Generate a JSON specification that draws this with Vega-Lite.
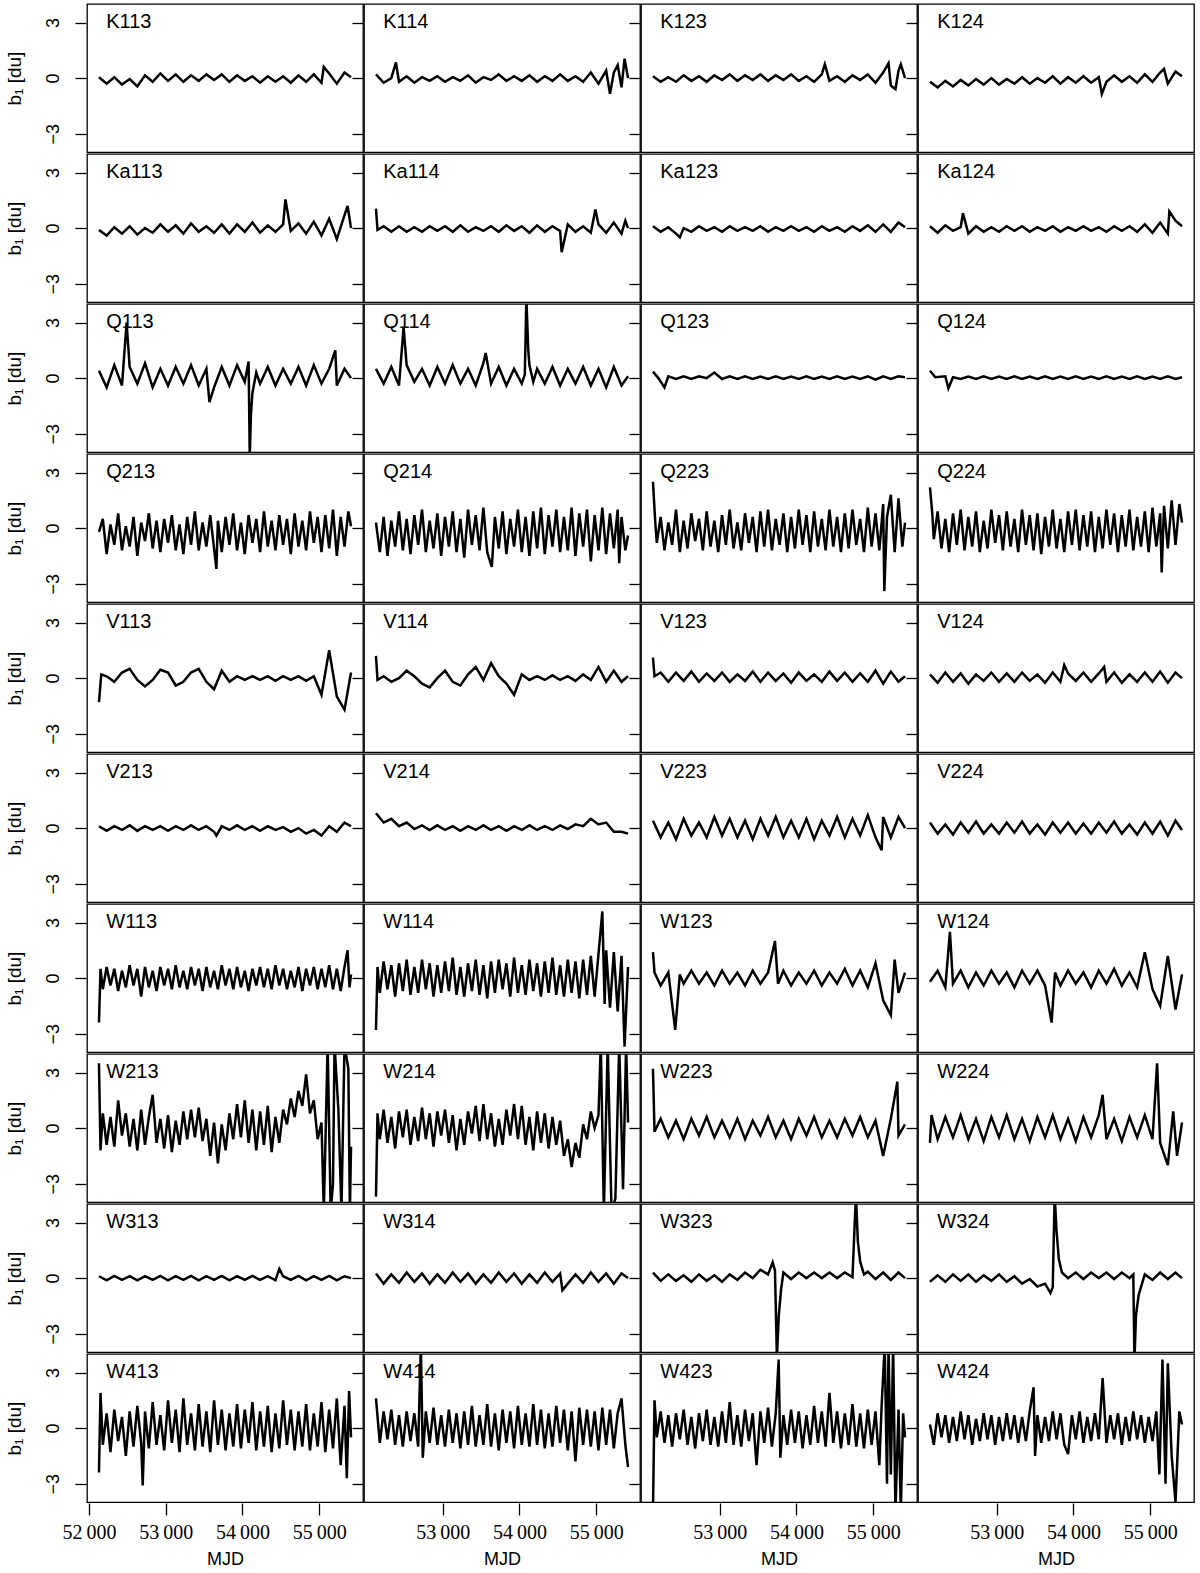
{
"$schema":"https://vega.github.io/schema/vega-lite/v6.json",
"padding":{"left":5,"top":3,"right":2,"bottom":0},
"background":"white",
"config":{"view":{"stroke":"#000","strokeWidth":1.3},"font":"Liberation Sans","axis":{"grid":false,"domain":false,"tickColor":"#000","tickWidth":1.3,"labelColor":"#000","titleColor":"#000","titleFontWeight":"normal"}},
"data":{"values":[
{"p":1,"x":52130,"y":0.05,"n":"K113"},{"p":1,"x":52230,"y":-0.3},{"p":1,"x":52330,"y":0.05},{"p":1,"x":52430,"y":-0.35},{"p":1,"x":52530,"y":-0.05},{"p":1,"x":52630,"y":-0.45},{"p":1,"x":52730,"y":0.15},{"p":1,"x":52830,"y":-0.2},{"p":1,"x":52930,"y":0.25},{"p":1,"x":53030,"y":-0.15},{"p":1,"x":53130,"y":0.2},{"p":1,"x":53230,"y":-0.2},{"p":1,"x":53330,"y":0.15},{"p":1,"x":53430,"y":-0.15},{"p":1,"x":53530,"y":0.2},{"p":1,"x":53630,"y":-0.1},{"p":1,"x":53730,"y":0.2},{"p":1,"x":53830,"y":-0.2},{"p":1,"x":53930,"y":0.15},{"p":1,"x":54030,"y":-0.15},{"p":1,"x":54130,"y":0.1},{"p":1,"x":54230,"y":-0.25},{"p":1,"x":54330,"y":0.1},{"p":1,"x":54430,"y":-0.2},{"p":1,"x":54530,"y":0.1},{"p":1,"x":54630,"y":-0.25},{"p":1,"x":54730,"y":0.15},{"p":1,"x":54830,"y":-0.2},{"p":1,"x":54930,"y":0.2},{"p":1,"x":55030,"y":-0.25},{"p":1,"x":55060,"y":0.6},{"p":1,"x":55130,"y":0.25},{"p":1,"x":55230,"y":-0.3},{"p":1,"x":55330,"y":0.3},{"p":1,"x":55415,"y":0.05},
{"p":2,"x":52130,"y":0.2,"n":"K114"},{"p":2,"x":52230,"y":-0.25},{"p":2,"x":52330,"y":0.0},{"p":2,"x":52390,"y":0.85},{"p":2,"x":52430,"y":-0.2},{"p":2,"x":52530,"y":0.1},{"p":2,"x":52630,"y":-0.25},{"p":2,"x":52730,"y":0.05},{"p":2,"x":52830,"y":-0.15},{"p":2,"x":52930,"y":0.1},{"p":2,"x":53030,"y":-0.2},{"p":2,"x":53130,"y":0.05},{"p":2,"x":53230,"y":-0.15},{"p":2,"x":53330,"y":0.15},{"p":2,"x":53430,"y":-0.25},{"p":2,"x":53530,"y":0.05},{"p":2,"x":53630,"y":-0.1},{"p":2,"x":53730,"y":0.2},{"p":2,"x":53830,"y":-0.15},{"p":2,"x":53930,"y":0.1},{"p":2,"x":54030,"y":-0.15},{"p":2,"x":54130,"y":0.15},{"p":2,"x":54230,"y":-0.2},{"p":2,"x":54330,"y":0.1},{"p":2,"x":54430,"y":-0.15},{"p":2,"x":54530,"y":0.2},{"p":2,"x":54630,"y":-0.15},{"p":2,"x":54730,"y":0.1},{"p":2,"x":54830,"y":-0.2},{"p":2,"x":54930,"y":0.3},{"p":2,"x":55030,"y":-0.3},{"p":2,"x":55130,"y":0.4},{"p":2,"x":55180,"y":-0.85},{"p":2,"x":55230,"y":0.3},{"p":2,"x":55280,"y":0.7},{"p":2,"x":55330,"y":-0.5},{"p":2,"x":55370,"y":1.05},{"p":2,"x":55415,"y":0.0},
{"p":3,"x":52130,"y":0.1,"n":"K123"},{"p":3,"x":52230,"y":-0.2},{"p":3,"x":52330,"y":0.05},{"p":3,"x":52430,"y":-0.2},{"p":3,"x":52530,"y":0.15},{"p":3,"x":52630,"y":-0.15},{"p":3,"x":52730,"y":0.1},{"p":3,"x":52830,"y":-0.2},{"p":3,"x":52930,"y":0.15},{"p":3,"x":53030,"y":-0.1},{"p":3,"x":53130,"y":0.2},{"p":3,"x":53230,"y":-0.15},{"p":3,"x":53330,"y":0.15},{"p":3,"x":53430,"y":-0.1},{"p":3,"x":53530,"y":0.2},{"p":3,"x":53630,"y":-0.15},{"p":3,"x":53730,"y":0.15},{"p":3,"x":53830,"y":-0.1},{"p":3,"x":53930,"y":0.2},{"p":3,"x":54030,"y":-0.15},{"p":3,"x":54130,"y":0.1},{"p":3,"x":54230,"y":-0.2},{"p":3,"x":54330,"y":0.2},{"p":3,"x":54370,"y":0.75},{"p":3,"x":54430,"y":-0.15},{"p":3,"x":54530,"y":0.1},{"p":3,"x":54630,"y":-0.2},{"p":3,"x":54730,"y":0.15},{"p":3,"x":54830,"y":-0.1},{"p":3,"x":54930,"y":0.2},{"p":3,"x":55030,"y":-0.25},{"p":3,"x":55130,"y":0.3},{"p":3,"x":55200,"y":0.8},{"p":3,"x":55230,"y":-0.4},{"p":3,"x":55290,"y":-0.6},{"p":3,"x":55330,"y":0.4},{"p":3,"x":55360,"y":0.75},{"p":3,"x":55415,"y":0.0},
{"p":4,"x":52130,"y":-0.2,"n":"K124"},{"p":4,"x":52230,"y":-0.5},{"p":4,"x":52330,"y":-0.15},{"p":4,"x":52430,"y":-0.45},{"p":4,"x":52530,"y":-0.1},{"p":4,"x":52630,"y":-0.4},{"p":4,"x":52730,"y":-0.05},{"p":4,"x":52830,"y":-0.35},{"p":4,"x":52930,"y":0.0},{"p":4,"x":53030,"y":-0.35},{"p":4,"x":53130,"y":-0.05},{"p":4,"x":53230,"y":-0.3},{"p":4,"x":53330,"y":0.05},{"p":4,"x":53430,"y":-0.3},{"p":4,"x":53530,"y":0.0},{"p":4,"x":53630,"y":-0.25},{"p":4,"x":53730,"y":0.1},{"p":4,"x":53830,"y":-0.3},{"p":4,"x":53930,"y":0.05},{"p":4,"x":54030,"y":-0.25},{"p":4,"x":54130,"y":0.1},{"p":4,"x":54230,"y":-0.25},{"p":4,"x":54330,"y":0.05},{"p":4,"x":54370,"y":-0.85},{"p":4,"x":54430,"y":-0.2},{"p":4,"x":54530,"y":0.15},{"p":4,"x":54630,"y":-0.2},{"p":4,"x":54730,"y":0.1},{"p":4,"x":54830,"y":-0.25},{"p":4,"x":54930,"y":0.2},{"p":4,"x":55030,"y":-0.2},{"p":4,"x":55130,"y":0.3},{"p":4,"x":55180,"y":0.5},{"p":4,"x":55230,"y":-0.3},{"p":4,"x":55330,"y":0.35},{"p":4,"x":55415,"y":0.1},
{"p":5,"x":52130,"y":-0.1,"n":"Ka113"},{"p":5,"x":52230,"y":-0.4},{"p":5,"x":52330,"y":0.05},{"p":5,"x":52430,"y":-0.3},{"p":5,"x":52530,"y":0.1},{"p":5,"x":52630,"y":-0.35},{"p":5,"x":52730,"y":0.0},{"p":5,"x":52830,"y":-0.25},{"p":5,"x":52930,"y":0.2},{"p":5,"x":53030,"y":-0.2},{"p":5,"x":53130,"y":0.15},{"p":5,"x":53230,"y":-0.3},{"p":5,"x":53330,"y":0.25},{"p":5,"x":53430,"y":-0.2},{"p":5,"x":53530,"y":0.1},{"p":5,"x":53630,"y":-0.25},{"p":5,"x":53730,"y":0.2},{"p":5,"x":53830,"y":-0.3},{"p":5,"x":53930,"y":0.2},{"p":5,"x":54030,"y":-0.2},{"p":5,"x":54130,"y":0.3},{"p":5,"x":54230,"y":-0.25},{"p":5,"x":54330,"y":0.15},{"p":5,"x":54430,"y":-0.2},{"p":5,"x":54530,"y":0.2},{"p":5,"x":54560,"y":1.55},{"p":5,"x":54630,"y":-0.15},{"p":5,"x":54730,"y":0.25},{"p":5,"x":54830,"y":-0.3},{"p":5,"x":54930,"y":0.35},{"p":5,"x":55030,"y":-0.4},{"p":5,"x":55130,"y":0.5},{"p":5,"x":55230,"y":-0.6},{"p":5,"x":55330,"y":0.7},{"p":5,"x":55370,"y":1.2},{"p":5,"x":55415,"y":0.0},
{"p":6,"x":52130,"y":1.05,"n":"Ka114"},{"p":6,"x":52150,"y":-0.1},{"p":6,"x":52230,"y":0.1},{"p":6,"x":52330,"y":-0.2},{"p":6,"x":52430,"y":0.1},{"p":6,"x":52530,"y":-0.2},{"p":6,"x":52630,"y":0.05},{"p":6,"x":52730,"y":-0.2},{"p":6,"x":52830,"y":0.1},{"p":6,"x":52930,"y":-0.15},{"p":6,"x":53030,"y":0.1},{"p":6,"x":53130,"y":-0.2},{"p":6,"x":53230,"y":0.15},{"p":6,"x":53330,"y":-0.2},{"p":6,"x":53430,"y":0.05},{"p":6,"x":53530,"y":-0.15},{"p":6,"x":53630,"y":0.1},{"p":6,"x":53730,"y":-0.2},{"p":6,"x":53830,"y":0.15},{"p":6,"x":53930,"y":-0.15},{"p":6,"x":54030,"y":0.1},{"p":6,"x":54130,"y":-0.25},{"p":6,"x":54230,"y":0.15},{"p":6,"x":54330,"y":-0.2},{"p":6,"x":54430,"y":0.1},{"p":6,"x":54530,"y":-0.15},{"p":6,"x":54550,"y":-1.3},{"p":6,"x":54630,"y":0.2},{"p":6,"x":54730,"y":-0.2},{"p":6,"x":54830,"y":0.1},{"p":6,"x":54930,"y":-0.25},{"p":6,"x":54990,"y":1.0},{"p":6,"x":55030,"y":0.2},{"p":6,"x":55130,"y":-0.25},{"p":6,"x":55230,"y":0.3},{"p":6,"x":55330,"y":-0.3},{"p":6,"x":55380,"y":0.4},{"p":6,"x":55415,"y":0.0},
{"p":7,"x":52130,"y":0.1,"n":"Ka123"},{"p":7,"x":52230,"y":-0.2},{"p":7,"x":52330,"y":0.05},{"p":7,"x":52430,"y":-0.3},{"p":7,"x":52480,"y":-0.5},{"p":7,"x":52530,"y":0.0},{"p":7,"x":52630,"y":-0.2},{"p":7,"x":52730,"y":0.1},{"p":7,"x":52830,"y":-0.15},{"p":7,"x":52930,"y":0.05},{"p":7,"x":53030,"y":-0.2},{"p":7,"x":53130,"y":0.1},{"p":7,"x":53230,"y":-0.15},{"p":7,"x":53330,"y":0.05},{"p":7,"x":53430,"y":-0.15},{"p":7,"x":53530,"y":0.1},{"p":7,"x":53630,"y":-0.2},{"p":7,"x":53730,"y":0.05},{"p":7,"x":53830,"y":-0.15},{"p":7,"x":53930,"y":0.1},{"p":7,"x":54030,"y":-0.15},{"p":7,"x":54130,"y":0.05},{"p":7,"x":54230,"y":-0.2},{"p":7,"x":54330,"y":0.1},{"p":7,"x":54430,"y":-0.15},{"p":7,"x":54530,"y":0.05},{"p":7,"x":54630,"y":-0.2},{"p":7,"x":54730,"y":0.1},{"p":7,"x":54830,"y":-0.15},{"p":7,"x":54930,"y":0.15},{"p":7,"x":55030,"y":-0.2},{"p":7,"x":55130,"y":0.2},{"p":7,"x":55230,"y":-0.2},{"p":7,"x":55330,"y":0.3},{"p":7,"x":55415,"y":0.05},
{"p":8,"x":52130,"y":0.1,"n":"Ka124"},{"p":8,"x":52230,"y":-0.25},{"p":8,"x":52330,"y":0.15},{"p":8,"x":52430,"y":-0.15},{"p":8,"x":52530,"y":0.05},{"p":8,"x":52560,"y":0.8},{"p":8,"x":52630,"y":-0.3},{"p":8,"x":52730,"y":0.1},{"p":8,"x":52830,"y":-0.2},{"p":8,"x":52930,"y":0.05},{"p":8,"x":53030,"y":-0.2},{"p":8,"x":53130,"y":0.1},{"p":8,"x":53230,"y":-0.15},{"p":8,"x":53330,"y":0.1},{"p":8,"x":53430,"y":-0.2},{"p":8,"x":53530,"y":0.05},{"p":8,"x":53630,"y":-0.15},{"p":8,"x":53730,"y":0.1},{"p":8,"x":53830,"y":-0.2},{"p":8,"x":53930,"y":0.05},{"p":8,"x":54030,"y":-0.15},{"p":8,"x":54130,"y":0.1},{"p":8,"x":54230,"y":-0.15},{"p":8,"x":54330,"y":0.05},{"p":8,"x":54430,"y":-0.2},{"p":8,"x":54530,"y":0.1},{"p":8,"x":54630,"y":-0.15},{"p":8,"x":54730,"y":0.1},{"p":8,"x":54830,"y":-0.2},{"p":8,"x":54930,"y":0.2},{"p":8,"x":55030,"y":-0.25},{"p":8,"x":55130,"y":0.3},{"p":8,"x":55230,"y":-0.3},{"p":8,"x":55250,"y":0.9},{"p":8,"x":55330,"y":0.4},{"p":8,"x":55415,"y":0.1},
{"p":9,"x":52130,"y":0.4,"n":"Q113"},{"p":9,"x":52230,"y":-0.5},{"p":9,"x":52330,"y":0.7},{"p":9,"x":52430,"y":-0.4},{"p":9,"x":52490,"y":3.0},{"p":9,"x":52530,"y":0.6},{"p":9,"x":52630,"y":-0.3},{"p":9,"x":52730,"y":0.8},{"p":9,"x":52830,"y":-0.5},{"p":9,"x":52930,"y":0.5},{"p":9,"x":53030,"y":-0.4},{"p":9,"x":53130,"y":0.6},{"p":9,"x":53230,"y":-0.3},{"p":9,"x":53330,"y":0.7},{"p":9,"x":53430,"y":-0.4},{"p":9,"x":53530,"y":0.5},{"p":9,"x":53570,"y":-1.3},{"p":9,"x":53630,"y":-0.5},{"p":9,"x":53730,"y":0.6},{"p":9,"x":53830,"y":-0.4},{"p":9,"x":53930,"y":0.7},{"p":9,"x":54030,"y":-0.2},{"p":9,"x":54080,"y":0.9},{"p":9,"x":54095,"y":-4.3},{"p":9,"x":54110,"y":-2.0},{"p":9,"x":54130,"y":-0.8},{"p":9,"x":54180,"y":0.3},{"p":9,"x":54230,"y":-0.3},{"p":9,"x":54330,"y":0.6},{"p":9,"x":54430,"y":-0.4},{"p":9,"x":54530,"y":0.5},{"p":9,"x":54630,"y":-0.3},{"p":9,"x":54730,"y":0.6},{"p":9,"x":54830,"y":-0.4},{"p":9,"x":54930,"y":0.7},{"p":9,"x":55030,"y":-0.3},{"p":9,"x":55130,"y":0.5},{"p":9,"x":55210,"y":1.5},{"p":9,"x":55230,"y":-0.4},{"p":9,"x":55330,"y":0.5},{"p":9,"x":55415,"y":0.0},
{"p":10,"x":52130,"y":0.5,"n":"Q114"},{"p":10,"x":52230,"y":-0.3},{"p":10,"x":52330,"y":0.6},{"p":10,"x":52430,"y":-0.4},{"p":10,"x":52490,"y":2.75},{"p":10,"x":52530,"y":0.7},{"p":10,"x":52630,"y":-0.2},{"p":10,"x":52730,"y":0.5},{"p":10,"x":52830,"y":-0.4},{"p":10,"x":52930,"y":0.6},{"p":10,"x":53030,"y":-0.3},{"p":10,"x":53130,"y":0.7},{"p":10,"x":53230,"y":-0.3},{"p":10,"x":53330,"y":0.5},{"p":10,"x":53430,"y":-0.4},{"p":10,"x":53530,"y":0.8},{"p":10,"x":53560,"y":1.35},{"p":10,"x":53630,"y":-0.3},{"p":10,"x":53730,"y":0.6},{"p":10,"x":53830,"y":-0.4},{"p":10,"x":53930,"y":0.5},{"p":10,"x":54030,"y":-0.3},{"p":10,"x":54070,"y":0.2},{"p":10,"x":54090,"y":4.3},{"p":10,"x":54115,"y":1.5},{"p":10,"x":54130,"y":0.7},{"p":10,"x":54180,"y":-0.2},{"p":10,"x":54230,"y":0.5},{"p":10,"x":54330,"y":-0.3},{"p":10,"x":54430,"y":0.6},{"p":10,"x":54530,"y":-0.4},{"p":10,"x":54630,"y":0.5},{"p":10,"x":54730,"y":-0.3},{"p":10,"x":54830,"y":0.6},{"p":10,"x":54930,"y":-0.4},{"p":10,"x":55030,"y":0.5},{"p":10,"x":55130,"y":-0.5},{"p":10,"x":55230,"y":0.6},{"p":10,"x":55330,"y":-0.4},{"p":10,"x":55415,"y":0.1},
{"p":11,"x":52130,"y":0.35,"n":"Q123"},{"p":11,"x":52200,"y":0.0},{"p":11,"x":52280,"y":-0.5},{"p":11,"x":52330,"y":0.1},{"p":11,"x":52430,"y":-0.05},{"p":11,"x":52530,"y":0.1},{"p":11,"x":52630,"y":-0.05},{"p":11,"x":52730,"y":0.1},{"p":11,"x":52830,"y":0.0},{"p":11,"x":52930,"y":0.3},{"p":11,"x":53030,"y":-0.05},{"p":11,"x":53130,"y":0.1},{"p":11,"x":53230,"y":-0.05},{"p":11,"x":53330,"y":0.1},{"p":11,"x":53430,"y":-0.05},{"p":11,"x":53530,"y":0.08},{"p":11,"x":53630,"y":-0.05},{"p":11,"x":53730,"y":0.1},{"p":11,"x":53830,"y":-0.05},{"p":11,"x":53930,"y":0.08},{"p":11,"x":54030,"y":-0.05},{"p":11,"x":54130,"y":0.1},{"p":11,"x":54230,"y":-0.05},{"p":11,"x":54330,"y":0.08},{"p":11,"x":54430,"y":-0.05},{"p":11,"x":54530,"y":0.1},{"p":11,"x":54630,"y":-0.05},{"p":11,"x":54730,"y":0.08},{"p":11,"x":54830,"y":-0.05},{"p":11,"x":54930,"y":0.1},{"p":11,"x":55030,"y":-0.08},{"p":11,"x":55130,"y":0.1},{"p":11,"x":55230,"y":-0.05},{"p":11,"x":55330,"y":0.1},{"p":11,"x":55415,"y":0.05},
{"p":12,"x":52130,"y":0.4,"n":"Q124"},{"p":12,"x":52200,"y":0.05},{"p":12,"x":52330,"y":0.1},{"p":12,"x":52370,"y":-0.55},{"p":12,"x":52430,"y":0.05},{"p":12,"x":52530,"y":-0.05},{"p":12,"x":52630,"y":0.08},{"p":12,"x":52730,"y":-0.05},{"p":12,"x":52830,"y":0.1},{"p":12,"x":52930,"y":-0.05},{"p":12,"x":53030,"y":0.08},{"p":12,"x":53130,"y":-0.05},{"p":12,"x":53230,"y":0.1},{"p":12,"x":53330,"y":-0.05},{"p":12,"x":53430,"y":0.08},{"p":12,"x":53530,"y":-0.05},{"p":12,"x":53630,"y":0.1},{"p":12,"x":53730,"y":-0.05},{"p":12,"x":53830,"y":0.08},{"p":12,"x":53930,"y":-0.05},{"p":12,"x":54030,"y":0.1},{"p":12,"x":54130,"y":-0.05},{"p":12,"x":54230,"y":0.08},{"p":12,"x":54330,"y":-0.05},{"p":12,"x":54430,"y":0.1},{"p":12,"x":54530,"y":-0.05},{"p":12,"x":54630,"y":0.08},{"p":12,"x":54730,"y":-0.05},{"p":12,"x":54830,"y":0.1},{"p":12,"x":54930,"y":-0.05},{"p":12,"x":55030,"y":0.08},{"p":12,"x":55130,"y":-0.05},{"p":12,"x":55230,"y":0.1},{"p":12,"x":55330,"y":-0.05},{"p":12,"x":55415,"y":0.05},
{"p":13,"x":52130,"y":-0.2,"n":"Q213"},{"p":13,"x":52180,"y":0.5},{"p":13,"x":52230,"y":-1.4},{"p":13,"x":52280,"y":0.2},{"p":13,"x":52330,"y":-0.9},{"p":13,"x":52380,"y":0.8},{"p":13,"x":52430,"y":-1.2},{"p":13,"x":52480,"y":0.1},{"p":13,"x":52530,"y":-1.0},{"p":13,"x":52580,"y":0.6},{"p":13,"x":52630,"y":-1.5},{"p":13,"x":52680,"y":0.3},{"p":13,"x":52730,"y":-0.7},{"p":13,"x":52780,"y":0.8},{"p":13,"x":52830,"y":-1.1},{"p":13,"x":52880,"y":0.4},{"p":13,"x":52930,"y":-1.3},{"p":13,"x":52980,"y":0.5},{"p":13,"x":53030,"y":-0.8},{"p":13,"x":53080,"y":0.7},{"p":13,"x":53130,"y":-1.2},{"p":13,"x":53180,"y":0.2},{"p":13,"x":53230,"y":-1.4},{"p":13,"x":53280,"y":0.6},{"p":13,"x":53330,"y":-0.9},{"p":13,"x":53380,"y":0.9},{"p":13,"x":53430,"y":-1.2},{"p":13,"x":53480,"y":0.3},{"p":13,"x":53530,"y":-1.0},{"p":13,"x":53580,"y":0.7},{"p":13,"x":53630,"y":-1.1},{"p":13,"x":53660,"y":-2.2},{"p":13,"x":53680,"y":0.4},{"p":13,"x":53730,"y":-1.3},{"p":13,"x":53780,"y":0.6},{"p":13,"x":53830,"y":-0.9},{"p":13,"x":53880,"y":0.8},{"p":13,"x":53930,"y":-1.2},{"p":13,"x":53980,"y":0.3},{"p":13,"x":54030,"y":-1.4},{"p":13,"x":54080,"y":0.7},{"p":13,"x":54130,"y":-0.8},{"p":13,"x":54180,"y":0.5},{"p":13,"x":54230,"y":-1.3},{"p":13,"x":54280,"y":0.9},{"p":13,"x":54330,"y":-1.0},{"p":13,"x":54380,"y":0.4},{"p":13,"x":54430,"y":-1.2},{"p":13,"x":54480,"y":0.7},{"p":13,"x":54530,"y":-0.9},{"p":13,"x":54580,"y":0.5},{"p":13,"x":54630,"y":-1.4},{"p":13,"x":54680,"y":0.8},{"p":13,"x":54730,"y":-1.0},{"p":13,"x":54780,"y":0.4},{"p":13,"x":54830,"y":-1.2},{"p":13,"x":54880,"y":0.9},{"p":13,"x":54930,"y":-0.8},{"p":13,"x":54980,"y":0.6},{"p":13,"x":55030,"y":-1.3},{"p":13,"x":55080,"y":0.7},{"p":13,"x":55130,"y":-1.1},{"p":13,"x":55180,"y":1.0},{"p":13,"x":55230,"y":-1.5},{"p":13,"x":55280,"y":0.6},{"p":13,"x":55330,"y":-1.0},{"p":13,"x":55380,"y":0.9},{"p":13,"x":55415,"y":0.1},
{"p":14,"x":52130,"y":0.3,"n":"Q214"},{"p":14,"x":52180,"y":-1.3},{"p":14,"x":52230,"y":0.6},{"p":14,"x":52280,"y":-1.5},{"p":14,"x":52330,"y":0.4},{"p":14,"x":52380,"y":-1.0},{"p":14,"x":52430,"y":0.9},{"p":14,"x":52480,"y":-1.2},{"p":14,"x":52530,"y":0.5},{"p":14,"x":52580,"y":-1.4},{"p":14,"x":52630,"y":0.7},{"p":14,"x":52680,"y":-0.9},{"p":14,"x":52730,"y":1.0},{"p":14,"x":52780,"y":-1.3},{"p":14,"x":52830,"y":0.4},{"p":14,"x":52880,"y":-1.1},{"p":14,"x":52930,"y":0.8},{"p":14,"x":52980,"y":-1.5},{"p":14,"x":53030,"y":0.6},{"p":14,"x":53080,"y":-1.0},{"p":14,"x":53130,"y":0.9},{"p":14,"x":53180,"y":-1.3},{"p":14,"x":53230,"y":0.5},{"p":14,"x":53280,"y":-1.6},{"p":14,"x":53330,"y":1.0},{"p":14,"x":53380,"y":-0.9},{"p":14,"x":53430,"y":0.7},{"p":14,"x":53480,"y":-1.2},{"p":14,"x":53530,"y":1.1},{"p":14,"x":53580,"y":-1.3},{"p":14,"x":53640,"y":-2.1},{"p":14,"x":53680,"y":0.6},{"p":14,"x":53730,"y":-1.1},{"p":14,"x":53780,"y":0.9},{"p":14,"x":53830,"y":-1.4},{"p":14,"x":53880,"y":0.5},{"p":14,"x":53930,"y":-1.0},{"p":14,"x":53980,"y":1.0},{"p":14,"x":54030,"y":-1.3},{"p":14,"x":54080,"y":0.6},{"p":14,"x":54130,"y":-1.5},{"p":14,"x":54180,"y":0.9},{"p":14,"x":54230,"y":-1.1},{"p":14,"x":54280,"y":1.1},{"p":14,"x":54330,"y":-1.4},{"p":14,"x":54380,"y":0.7},{"p":14,"x":54430,"y":-1.0},{"p":14,"x":54480,"y":1.0},{"p":14,"x":54530,"y":-1.3},{"p":14,"x":54580,"y":0.6},{"p":14,"x":54630,"y":-1.2},{"p":14,"x":54680,"y":1.1},{"p":14,"x":54730,"y":-1.5},{"p":14,"x":54780,"y":0.8},{"p":14,"x":54830,"y":-1.0},{"p":14,"x":54880,"y":1.0},{"p":14,"x":54930,"y":-1.8},{"p":14,"x":54980,"y":0.7},{"p":14,"x":55030,"y":-1.2},{"p":14,"x":55080,"y":1.1},{"p":14,"x":55130,"y":-1.4},{"p":14,"x":55180,"y":0.8},{"p":14,"x":55230,"y":-1.1},{"p":14,"x":55280,"y":1.0},{"p":14,"x":55300,"y":-1.9},{"p":14,"x":55330,"y":0.6},{"p":14,"x":55380,"y":-1.2},{"p":14,"x":55415,"y":-0.4},
{"p":15,"x":52130,"y":2.5,"n":"Q223"},{"p":15,"x":52160,"y":0.3},{"p":15,"x":52180,"y":-0.8},{"p":15,"x":52230,"y":0.6},{"p":15,"x":52280,"y":-1.2},{"p":15,"x":52330,"y":0.3},{"p":15,"x":52380,"y":-0.9},{"p":15,"x":52430,"y":1.0},{"p":15,"x":52480,"y":-1.3},{"p":15,"x":52530,"y":0.4},{"p":15,"x":52580,"y":-1.1},{"p":15,"x":52630,"y":0.8},{"p":15,"x":52680,"y":-0.7},{"p":15,"x":52730,"y":0.5},{"p":15,"x":52780,"y":-1.2},{"p":15,"x":52830,"y":0.9},{"p":15,"x":52880,"y":-1.0},{"p":15,"x":52930,"y":0.4},{"p":15,"x":52980,"y":-1.3},{"p":15,"x":53030,"y":0.7},{"p":15,"x":53080,"y":-0.9},{"p":15,"x":53130,"y":1.0},{"p":15,"x":53180,"y":-1.1},{"p":15,"x":53230,"y":0.3},{"p":15,"x":53280,"y":-1.2},{"p":15,"x":53330,"y":0.8},{"p":15,"x":53380,"y":-0.8},{"p":15,"x":53430,"y":0.6},{"p":15,"x":53480,"y":-1.3},{"p":15,"x":53530,"y":0.9},{"p":15,"x":53580,"y":-1.0},{"p":15,"x":53630,"y":1.0},{"p":15,"x":53680,"y":-1.2},{"p":15,"x":53730,"y":0.5},{"p":15,"x":53780,"y":-0.9},{"p":15,"x":53830,"y":0.8},{"p":15,"x":53880,"y":-1.3},{"p":15,"x":53930,"y":0.6},{"p":15,"x":53980,"y":-1.1},{"p":15,"x":54030,"y":1.0},{"p":15,"x":54080,"y":-0.9},{"p":15,"x":54130,"y":0.7},{"p":15,"x":54180,"y":-1.3},{"p":15,"x":54230,"y":0.9},{"p":15,"x":54280,"y":-1.0},{"p":15,"x":54330,"y":0.5},{"p":15,"x":54380,"y":-1.2},{"p":15,"x":54430,"y":1.0},{"p":15,"x":54480,"y":-1.0},{"p":15,"x":54530,"y":0.6},{"p":15,"x":54580,"y":-1.3},{"p":15,"x":54630,"y":0.8},{"p":15,"x":54680,"y":-1.1},{"p":15,"x":54730,"y":1.0},{"p":15,"x":54780,"y":-0.9},{"p":15,"x":54830,"y":0.5},{"p":15,"x":54880,"y":-1.3},{"p":15,"x":54930,"y":1.1},{"p":15,"x":54980,"y":-1.0},{"p":15,"x":55030,"y":0.8},{"p":15,"x":55080,"y":-1.2},{"p":15,"x":55130,"y":1.3},{"p":15,"x":55145,"y":-3.4},{"p":15,"x":55180,"y":0.6},{"p":15,"x":55230,"y":1.8},{"p":15,"x":55280,"y":-1.3},{"p":15,"x":55330,"y":1.6},{"p":15,"x":55380,"y":-1.0},{"p":15,"x":55415,"y":0.3},
{"p":16,"x":52130,"y":2.2,"n":"Q224"},{"p":16,"x":52160,"y":0.8},{"p":16,"x":52180,"y":-0.6},{"p":16,"x":52230,"y":0.9},{"p":16,"x":52280,"y":-1.1},{"p":16,"x":52330,"y":0.5},{"p":16,"x":52380,"y":-1.3},{"p":16,"x":52430,"y":0.8},{"p":16,"x":52480,"y":-0.9},{"p":16,"x":52530,"y":1.0},{"p":16,"x":52580,"y":-1.2},{"p":16,"x":52630,"y":0.6},{"p":16,"x":52680,"y":-1.0},{"p":16,"x":52730,"y":0.9},{"p":16,"x":52780,"y":-1.3},{"p":16,"x":52830,"y":0.4},{"p":16,"x":52880,"y":-1.1},{"p":16,"x":52930,"y":1.0},{"p":16,"x":52980,"y":-0.8},{"p":16,"x":53030,"y":0.7},{"p":16,"x":53080,"y":-1.2},{"p":16,"x":53130,"y":0.9},{"p":16,"x":53180,"y":-1.0},{"p":16,"x":53230,"y":0.5},{"p":16,"x":53280,"y":-1.3},{"p":16,"x":53330,"y":1.0},{"p":16,"x":53380,"y":-0.9},{"p":16,"x":53430,"y":0.7},{"p":16,"x":53480,"y":-1.2},{"p":16,"x":53530,"y":0.8},{"p":16,"x":53580,"y":-1.4},{"p":16,"x":53630,"y":0.6},{"p":16,"x":53680,"y":-1.0},{"p":16,"x":53730,"y":1.0},{"p":16,"x":53780,"y":-1.1},{"p":16,"x":53830,"y":0.5},{"p":16,"x":53880,"y":-1.3},{"p":16,"x":53930,"y":0.9},{"p":16,"x":53980,"y":-0.9},{"p":16,"x":54030,"y":1.0},{"p":16,"x":54080,"y":-1.2},{"p":16,"x":54130,"y":0.7},{"p":16,"x":54180,"y":-1.0},{"p":16,"x":54230,"y":0.9},{"p":16,"x":54280,"y":-1.3},{"p":16,"x":54330,"y":0.6},{"p":16,"x":54380,"y":-1.1},{"p":16,"x":54430,"y":1.0},{"p":16,"x":54480,"y":-0.9},{"p":16,"x":54530,"y":0.8},{"p":16,"x":54580,"y":-1.3},{"p":16,"x":54630,"y":0.7},{"p":16,"x":54680,"y":-1.0},{"p":16,"x":54730,"y":1.0},{"p":16,"x":54780,"y":-1.2},{"p":16,"x":54830,"y":0.6},{"p":16,"x":54880,"y":-1.0},{"p":16,"x":54930,"y":0.9},{"p":16,"x":54980,"y":-1.3},{"p":16,"x":55030,"y":1.1},{"p":16,"x":55080,"y":-1.0},{"p":16,"x":55130,"y":0.8},{"p":16,"x":55150,"y":-2.4},{"p":16,"x":55180,"y":1.2},{"p":16,"x":55230,"y":-1.1},{"p":16,"x":55280,"y":1.5},{"p":16,"x":55330,"y":-0.9},{"p":16,"x":55380,"y":1.3},{"p":16,"x":55415,"y":0.3},
{"p":17,"x":52130,"y":-1.3,"n":"V113"},{"p":17,"x":52160,"y":0.2},{"p":17,"x":52230,"y":0.1},{"p":17,"x":52330,"y":-0.2},{"p":17,"x":52430,"y":0.3},{"p":17,"x":52530,"y":0.5},{"p":17,"x":52630,"y":-0.1},{"p":17,"x":52730,"y":-0.45},{"p":17,"x":52830,"y":-0.1},{"p":17,"x":52930,"y":0.45},{"p":17,"x":53030,"y":0.3},{"p":17,"x":53130,"y":-0.4},{"p":17,"x":53230,"y":-0.2},{"p":17,"x":53330,"y":0.3},{"p":17,"x":53430,"y":0.5},{"p":17,"x":53530,"y":-0.2},{"p":17,"x":53630,"y":-0.6},{"p":17,"x":53730,"y":0.4},{"p":17,"x":53830,"y":-0.2},{"p":17,"x":53930,"y":0.1},{"p":17,"x":54030,"y":-0.1},{"p":17,"x":54130,"y":0.1},{"p":17,"x":54230,"y":-0.1},{"p":17,"x":54330,"y":0.1},{"p":17,"x":54430,"y":-0.15},{"p":17,"x":54530,"y":0.1},{"p":17,"x":54630,"y":-0.1},{"p":17,"x":54730,"y":0.1},{"p":17,"x":54830,"y":-0.15},{"p":17,"x":54930,"y":0.1},{"p":17,"x":55030,"y":-0.9},{"p":17,"x":55130,"y":1.5},{"p":17,"x":55230,"y":-1.0},{"p":17,"x":55330,"y":-1.7},{"p":17,"x":55415,"y":0.3},
{"p":18,"x":52130,"y":1.2,"n":"V114"},{"p":18,"x":52150,"y":-0.1},{"p":18,"x":52230,"y":0.1},{"p":18,"x":52330,"y":-0.2},{"p":18,"x":52430,"y":0.0},{"p":18,"x":52530,"y":0.4},{"p":18,"x":52630,"y":0.1},{"p":18,"x":52730,"y":-0.3},{"p":18,"x":52830,"y":-0.5},{"p":18,"x":52930,"y":0.0},{"p":18,"x":53030,"y":0.4},{"p":18,"x":53130,"y":-0.2},{"p":18,"x":53230,"y":-0.4},{"p":18,"x":53330,"y":0.2},{"p":18,"x":53430,"y":0.6},{"p":18,"x":53530,"y":-0.1},{"p":18,"x":53630,"y":0.8},{"p":18,"x":53730,"y":0.1},{"p":18,"x":53830,"y":-0.3},{"p":18,"x":53930,"y":-0.9},{"p":18,"x":54030,"y":0.2},{"p":18,"x":54130,"y":-0.1},{"p":18,"x":54230,"y":0.1},{"p":18,"x":54330,"y":-0.1},{"p":18,"x":54430,"y":0.15},{"p":18,"x":54530,"y":-0.1},{"p":18,"x":54630,"y":0.1},{"p":18,"x":54730,"y":-0.15},{"p":18,"x":54830,"y":0.2},{"p":18,"x":54930,"y":-0.1},{"p":18,"x":55030,"y":0.6},{"p":18,"x":55130,"y":-0.2},{"p":18,"x":55230,"y":0.4},{"p":18,"x":55330,"y":-0.2},{"p":18,"x":55415,"y":0.1},
{"p":19,"x":52130,"y":1.1,"n":"V123"},{"p":19,"x":52150,"y":0.1},{"p":19,"x":52230,"y":0.3},{"p":19,"x":52330,"y":-0.2},{"p":19,"x":52430,"y":0.3},{"p":19,"x":52530,"y":-0.15},{"p":19,"x":52630,"y":0.35},{"p":19,"x":52730,"y":-0.2},{"p":19,"x":52830,"y":0.25},{"p":19,"x":52930,"y":-0.15},{"p":19,"x":53030,"y":0.3},{"p":19,"x":53130,"y":-0.2},{"p":19,"x":53230,"y":0.2},{"p":19,"x":53330,"y":-0.15},{"p":19,"x":53430,"y":0.35},{"p":19,"x":53530,"y":-0.2},{"p":19,"x":53630,"y":0.3},{"p":19,"x":53730,"y":-0.15},{"p":19,"x":53830,"y":0.25},{"p":19,"x":53930,"y":-0.25},{"p":19,"x":54030,"y":0.3},{"p":19,"x":54130,"y":-0.15},{"p":19,"x":54230,"y":0.2},{"p":19,"x":54330,"y":-0.2},{"p":19,"x":54430,"y":0.35},{"p":19,"x":54530,"y":-0.15},{"p":19,"x":54630,"y":0.3},{"p":19,"x":54730,"y":-0.2},{"p":19,"x":54830,"y":0.25},{"p":19,"x":54930,"y":-0.2},{"p":19,"x":55030,"y":0.4},{"p":19,"x":55130,"y":-0.3},{"p":19,"x":55230,"y":0.35},{"p":19,"x":55330,"y":-0.2},{"p":19,"x":55415,"y":0.1},
{"p":20,"x":52130,"y":0.2,"n":"V124"},{"p":20,"x":52230,"y":-0.25},{"p":20,"x":52330,"y":0.3},{"p":20,"x":52430,"y":-0.2},{"p":20,"x":52530,"y":0.25},{"p":20,"x":52630,"y":-0.3},{"p":20,"x":52730,"y":0.2},{"p":20,"x":52830,"y":-0.15},{"p":20,"x":52930,"y":0.3},{"p":20,"x":53030,"y":-0.2},{"p":20,"x":53130,"y":0.25},{"p":20,"x":53230,"y":-0.2},{"p":20,"x":53330,"y":0.3},{"p":20,"x":53430,"y":-0.15},{"p":20,"x":53530,"y":0.2},{"p":20,"x":53630,"y":-0.25},{"p":20,"x":53730,"y":0.3},{"p":20,"x":53830,"y":-0.2},{"p":20,"x":53880,"y":0.7},{"p":20,"x":53930,"y":0.25},{"p":20,"x":54030,"y":-0.15},{"p":20,"x":54130,"y":0.3},{"p":20,"x":54230,"y":-0.2},{"p":20,"x":54330,"y":0.25},{"p":20,"x":54400,"y":0.6},{"p":20,"x":54430,"y":-0.2},{"p":20,"x":54530,"y":0.3},{"p":20,"x":54630,"y":-0.25},{"p":20,"x":54730,"y":0.2},{"p":20,"x":54830,"y":-0.2},{"p":20,"x":54930,"y":0.3},{"p":20,"x":55030,"y":-0.2},{"p":20,"x":55130,"y":0.35},{"p":20,"x":55230,"y":-0.25},{"p":20,"x":55330,"y":0.3},{"p":20,"x":55415,"y":0.0},
{"p":21,"x":52130,"y":0.1,"n":"V213"},{"p":21,"x":52230,"y":-0.15},{"p":21,"x":52330,"y":0.1},{"p":21,"x":52430,"y":-0.1},{"p":21,"x":52530,"y":0.15},{"p":21,"x":52630,"y":-0.15},{"p":21,"x":52730,"y":0.1},{"p":21,"x":52830,"y":-0.1},{"p":21,"x":52930,"y":0.1},{"p":21,"x":53030,"y":-0.15},{"p":21,"x":53130,"y":0.1},{"p":21,"x":53230,"y":-0.1},{"p":21,"x":53330,"y":0.15},{"p":21,"x":53430,"y":-0.1},{"p":21,"x":53530,"y":0.1},{"p":21,"x":53630,"y":-0.2},{"p":21,"x":53660,"y":-0.4},{"p":21,"x":53730,"y":0.1},{"p":21,"x":53830,"y":-0.1},{"p":21,"x":53930,"y":0.15},{"p":21,"x":54030,"y":-0.1},{"p":21,"x":54130,"y":0.1},{"p":21,"x":54230,"y":-0.15},{"p":21,"x":54330,"y":0.1},{"p":21,"x":54430,"y":-0.1},{"p":21,"x":54530,"y":0.05},{"p":21,"x":54630,"y":-0.2},{"p":21,"x":54730,"y":0.0},{"p":21,"x":54830,"y":-0.3},{"p":21,"x":54930,"y":-0.1},{"p":21,"x":55030,"y":-0.4},{"p":21,"x":55130,"y":0.1},{"p":21,"x":55230,"y":-0.2},{"p":21,"x":55330,"y":0.3},{"p":21,"x":55415,"y":0.1},
{"p":22,"x":52130,"y":0.8,"n":"V214"},{"p":22,"x":52230,"y":0.3},{"p":22,"x":52330,"y":0.5},{"p":22,"x":52430,"y":0.1},{"p":22,"x":52530,"y":0.3},{"p":22,"x":52630,"y":-0.05},{"p":22,"x":52730,"y":0.15},{"p":22,"x":52830,"y":-0.1},{"p":22,"x":52930,"y":0.15},{"p":22,"x":53030,"y":-0.1},{"p":22,"x":53130,"y":0.1},{"p":22,"x":53230,"y":-0.15},{"p":22,"x":53330,"y":0.1},{"p":22,"x":53430,"y":-0.1},{"p":22,"x":53530,"y":0.15},{"p":22,"x":53630,"y":-0.1},{"p":22,"x":53730,"y":0.1},{"p":22,"x":53830,"y":-0.15},{"p":22,"x":53930,"y":0.1},{"p":22,"x":54030,"y":-0.1},{"p":22,"x":54130,"y":0.15},{"p":22,"x":54230,"y":-0.1},{"p":22,"x":54330,"y":0.1},{"p":22,"x":54430,"y":-0.1},{"p":22,"x":54530,"y":0.15},{"p":22,"x":54630,"y":-0.05},{"p":22,"x":54730,"y":0.2},{"p":22,"x":54830,"y":0.1},{"p":22,"x":54930,"y":0.5},{"p":22,"x":55030,"y":0.2},{"p":22,"x":55130,"y":0.3},{"p":22,"x":55230,"y":-0.2},{"p":22,"x":55330,"y":-0.2},{"p":22,"x":55415,"y":-0.3},
{"p":23,"x":52130,"y":0.4,"n":"V223"},{"p":23,"x":52230,"y":-0.5},{"p":23,"x":52330,"y":0.3},{"p":23,"x":52430,"y":-0.6},{"p":23,"x":52530,"y":0.5},{"p":23,"x":52630,"y":-0.4},{"p":23,"x":52730,"y":0.3},{"p":23,"x":52830,"y":-0.5},{"p":23,"x":52930,"y":0.6},{"p":23,"x":53030,"y":-0.4},{"p":23,"x":53130,"y":0.5},{"p":23,"x":53230,"y":-0.5},{"p":23,"x":53330,"y":0.4},{"p":23,"x":53430,"y":-0.6},{"p":23,"x":53530,"y":0.5},{"p":23,"x":53630,"y":-0.4},{"p":23,"x":53730,"y":0.6},{"p":23,"x":53830,"y":-0.5},{"p":23,"x":53930,"y":0.4},{"p":23,"x":54030,"y":-0.5},{"p":23,"x":54130,"y":0.5},{"p":23,"x":54230,"y":-0.6},{"p":23,"x":54330,"y":0.4},{"p":23,"x":54430,"y":-0.4},{"p":23,"x":54530,"y":0.6},{"p":23,"x":54630,"y":-0.5},{"p":23,"x":54730,"y":0.5},{"p":23,"x":54830,"y":-0.4},{"p":23,"x":54930,"y":0.7},{"p":23,"x":55030,"y":-0.5},{"p":23,"x":55110,"y":-1.2},{"p":23,"x":55130,"y":0.6},{"p":23,"x":55230,"y":-0.5},{"p":23,"x":55330,"y":0.6},{"p":23,"x":55415,"y":0.0},
{"p":24,"x":52130,"y":0.3,"n":"V224"},{"p":24,"x":52230,"y":-0.3},{"p":24,"x":52330,"y":0.2},{"p":24,"x":52430,"y":-0.35},{"p":24,"x":52530,"y":0.3},{"p":24,"x":52630,"y":-0.25},{"p":24,"x":52730,"y":0.35},{"p":24,"x":52830,"y":-0.3},{"p":24,"x":52930,"y":0.2},{"p":24,"x":53030,"y":-0.3},{"p":24,"x":53130,"y":0.3},{"p":24,"x":53230,"y":-0.25},{"p":24,"x":53330,"y":0.35},{"p":24,"x":53430,"y":-0.3},{"p":24,"x":53530,"y":0.2},{"p":24,"x":53630,"y":-0.35},{"p":24,"x":53730,"y":0.3},{"p":24,"x":53830,"y":-0.25},{"p":24,"x":53930,"y":0.3},{"p":24,"x":54030,"y":-0.3},{"p":24,"x":54130,"y":0.25},{"p":24,"x":54230,"y":-0.3},{"p":24,"x":54330,"y":0.3},{"p":24,"x":54430,"y":-0.25},{"p":24,"x":54530,"y":0.35},{"p":24,"x":54630,"y":-0.3},{"p":24,"x":54730,"y":0.2},{"p":24,"x":54830,"y":-0.35},{"p":24,"x":54930,"y":0.3},{"p":24,"x":55030,"y":-0.3},{"p":24,"x":55130,"y":0.35},{"p":24,"x":55230,"y":-0.4},{"p":24,"x":55330,"y":0.4},{"p":24,"x":55415,"y":-0.1},
{"p":25,"x":52130,"y":-2.4,"n":"W113"},{"p":25,"x":52150,"y":0.5},{"p":25,"x":52180,"y":-0.6},{"p":25,"x":52230,"y":0.6},{"p":25,"x":52280,"y":-0.4},{"p":25,"x":52330,"y":0.5},{"p":25,"x":52380,"y":-0.7},{"p":25,"x":52430,"y":0.4},{"p":25,"x":52480,"y":-0.5},{"p":25,"x":52530,"y":0.7},{"p":25,"x":52580,"y":-0.4},{"p":25,"x":52630,"y":0.5},{"p":25,"x":52680,"y":-1.0},{"p":25,"x":52730,"y":0.6},{"p":25,"x":52780,"y":-0.5},{"p":25,"x":52830,"y":0.4},{"p":25,"x":52880,"y":-0.7},{"p":25,"x":52930,"y":0.6},{"p":25,"x":52980,"y":-0.4},{"p":25,"x":53030,"y":0.5},{"p":25,"x":53080,"y":-0.6},{"p":25,"x":53130,"y":0.7},{"p":25,"x":53180,"y":-0.5},{"p":25,"x":53230,"y":0.4},{"p":25,"x":53280,"y":-0.6},{"p":25,"x":53330,"y":0.6},{"p":25,"x":53380,"y":-0.4},{"p":25,"x":53430,"y":0.5},{"p":25,"x":53480,"y":-0.7},{"p":25,"x":53530,"y":0.6},{"p":25,"x":53580,"y":-0.5},{"p":25,"x":53630,"y":0.4},{"p":25,"x":53680,"y":-0.6},{"p":25,"x":53730,"y":0.7},{"p":25,"x":53780,"y":-0.4},{"p":25,"x":53830,"y":0.5},{"p":25,"x":53880,"y":-0.6},{"p":25,"x":53930,"y":0.6},{"p":25,"x":53980,"y":-0.5},{"p":25,"x":54030,"y":0.4},{"p":25,"x":54080,"y":-0.7},{"p":25,"x":54130,"y":0.5},{"p":25,"x":54180,"y":-0.4},{"p":25,"x":54230,"y":0.6},{"p":25,"x":54280,"y":-0.5},{"p":25,"x":54330,"y":0.5},{"p":25,"x":54380,"y":-0.6},{"p":25,"x":54430,"y":0.7},{"p":25,"x":54480,"y":-0.4},{"p":25,"x":54530,"y":0.5},{"p":25,"x":54580,"y":-0.6},{"p":25,"x":54630,"y":0.4},{"p":25,"x":54680,"y":-0.5},{"p":25,"x":54730,"y":0.6},{"p":25,"x":54780,"y":-0.7},{"p":25,"x":54830,"y":0.5},{"p":25,"x":54880,"y":-0.4},{"p":25,"x":54930,"y":0.6},{"p":25,"x":54980,"y":-0.6},{"p":25,"x":55030,"y":0.5},{"p":25,"x":55080,"y":-0.5},{"p":25,"x":55130,"y":0.7},{"p":25,"x":55180,"y":-0.6},{"p":25,"x":55230,"y":0.5},{"p":25,"x":55280,"y":-0.7},{"p":25,"x":55330,"y":0.6},{"p":25,"x":55370,"y":1.5},{"p":25,"x":55395,"y":-0.5},{"p":25,"x":55415,"y":0.2},
{"p":26,"x":52130,"y":-2.8,"n":"W114"},{"p":26,"x":52150,"y":0.6},{"p":26,"x":52180,"y":-0.8},{"p":26,"x":52230,"y":0.9},{"p":26,"x":52280,"y":-0.6},{"p":26,"x":52330,"y":0.7},{"p":26,"x":52380,"y":-1.0},{"p":26,"x":52430,"y":0.8},{"p":26,"x":52480,"y":-0.7},{"p":26,"x":52530,"y":1.0},{"p":26,"x":52580,"y":-0.9},{"p":26,"x":52630,"y":0.6},{"p":26,"x":52680,"y":-0.8},{"p":26,"x":52730,"y":1.0},{"p":26,"x":52780,"y":-0.6},{"p":26,"x":52830,"y":0.8},{"p":26,"x":52880,"y":-1.0},{"p":26,"x":52930,"y":0.7},{"p":26,"x":52980,"y":-0.8},{"p":26,"x":53030,"y":0.9},{"p":26,"x":53080,"y":-0.7},{"p":26,"x":53130,"y":1.1},{"p":26,"x":53180,"y":-0.9},{"p":26,"x":53230,"y":0.6},{"p":26,"x":53280,"y":-1.0},{"p":26,"x":53330,"y":0.8},{"p":26,"x":53380,"y":-0.7},{"p":26,"x":53430,"y":1.0},{"p":26,"x":53480,"y":-0.9},{"p":26,"x":53530,"y":0.7},{"p":26,"x":53580,"y":-1.1},{"p":26,"x":53630,"y":0.9},{"p":26,"x":53680,"y":-0.8},{"p":26,"x":53730,"y":1.0},{"p":26,"x":53780,"y":-0.6},{"p":26,"x":53830,"y":0.8},{"p":26,"x":53880,"y":-1.0},{"p":26,"x":53930,"y":1.1},{"p":26,"x":53980,"y":-0.8},{"p":26,"x":54030,"y":0.7},{"p":26,"x":54080,"y":-0.9},{"p":26,"x":54130,"y":1.0},{"p":26,"x":54180,"y":-0.7},{"p":26,"x":54230,"y":0.8},{"p":26,"x":54280,"y":-1.0},{"p":26,"x":54330,"y":0.9},{"p":26,"x":54380,"y":-0.8},{"p":26,"x":54430,"y":1.1},{"p":26,"x":54480,"y":-0.9},{"p":26,"x":54530,"y":0.7},{"p":26,"x":54580,"y":-1.0},{"p":26,"x":54630,"y":1.0},{"p":26,"x":54680,"y":-0.8},{"p":26,"x":54730,"y":0.9},{"p":26,"x":54780,"y":-1.1},{"p":26,"x":54830,"y":1.0},{"p":26,"x":54880,"y":-0.9},{"p":26,"x":54930,"y":1.2},{"p":26,"x":54980,"y":-1.0},{"p":26,"x":55030,"y":1.3},{"p":26,"x":55080,"y":3.6},{"p":26,"x":55110,"y":-1.4},{"p":26,"x":55130,"y":1.5},{"p":26,"x":55180,"y":-1.6},{"p":26,"x":55230,"y":1.4},{"p":26,"x":55280,"y":-1.8},{"p":26,"x":55330,"y":1.2},{"p":26,"x":55370,"y":-3.7},{"p":26,"x":55415,"y":0.6},
{"p":27,"x":52130,"y":1.4,"n":"W123"},{"p":27,"x":52150,"y":0.3},{"p":27,"x":52230,"y":-0.4},{"p":27,"x":52330,"y":0.3},{"p":27,"x":52420,"y":-2.8},{"p":27,"x":52480,"y":0.2},{"p":27,"x":52530,"y":-0.3},{"p":27,"x":52630,"y":0.4},{"p":27,"x":52730,"y":-0.3},{"p":27,"x":52830,"y":0.3},{"p":27,"x":52930,"y":-0.4},{"p":27,"x":53030,"y":0.4},{"p":27,"x":53130,"y":-0.3},{"p":27,"x":53230,"y":0.3},{"p":27,"x":53330,"y":-0.4},{"p":27,"x":53430,"y":0.4},{"p":27,"x":53530,"y":-0.3},{"p":27,"x":53630,"y":0.3},{"p":27,"x":53720,"y":2.0},{"p":27,"x":53760,"y":-0.3},{"p":27,"x":53830,"y":0.4},{"p":27,"x":53930,"y":-0.4},{"p":27,"x":54030,"y":0.3},{"p":27,"x":54130,"y":-0.3},{"p":27,"x":54230,"y":0.4},{"p":27,"x":54330,"y":-0.4},{"p":27,"x":54430,"y":0.3},{"p":27,"x":54530,"y":-0.3},{"p":27,"x":54630,"y":0.5},{"p":27,"x":54730,"y":-0.4},{"p":27,"x":54830,"y":0.4},{"p":27,"x":54930,"y":-0.5},{"p":27,"x":55030,"y":0.8},{"p":27,"x":55130,"y":-1.2},{"p":27,"x":55230,"y":-2.0},{"p":27,"x":55280,"y":1.0},{"p":27,"x":55330,"y":-0.8},{"p":27,"x":55415,"y":0.3},
{"p":28,"x":52130,"y":-0.2,"n":"W124"},{"p":28,"x":52230,"y":0.4},{"p":28,"x":52330,"y":-0.5},{"p":28,"x":52390,"y":2.5},{"p":28,"x":52430,"y":-0.3},{"p":28,"x":52530,"y":0.4},{"p":28,"x":52630,"y":-0.5},{"p":28,"x":52730,"y":0.3},{"p":28,"x":52830,"y":-0.4},{"p":28,"x":52930,"y":0.4},{"p":28,"x":53030,"y":-0.3},{"p":28,"x":53130,"y":0.3},{"p":28,"x":53230,"y":-0.5},{"p":28,"x":53330,"y":0.4},{"p":28,"x":53430,"y":-0.3},{"p":28,"x":53530,"y":0.4},{"p":28,"x":53630,"y":-0.4},{"p":28,"x":53715,"y":-2.4},{"p":28,"x":53760,"y":0.3},{"p":28,"x":53830,"y":-0.4},{"p":28,"x":53930,"y":0.4},{"p":28,"x":54030,"y":-0.3},{"p":28,"x":54130,"y":0.3},{"p":28,"x":54230,"y":-0.5},{"p":28,"x":54330,"y":0.4},{"p":28,"x":54430,"y":-0.3},{"p":28,"x":54530,"y":0.5},{"p":28,"x":54630,"y":-0.4},{"p":28,"x":54730,"y":0.3},{"p":28,"x":54830,"y":-0.5},{"p":28,"x":54930,"y":1.4},{"p":28,"x":55030,"y":-0.6},{"p":28,"x":55130,"y":-1.5},{"p":28,"x":55230,"y":1.2},{"p":28,"x":55330,"y":-1.7},{"p":28,"x":55415,"y":0.2},
{"p":29,"x":52130,"y":3.5,"n":"W213"},{"p":29,"x":52150,"y":-1.2},{"p":29,"x":52180,"y":0.8},{"p":29,"x":52230,"y":-0.9},{"p":29,"x":52280,"y":0.6},{"p":29,"x":52330,"y":-1.0},{"p":29,"x":52380,"y":1.5},{"p":29,"x":52430,"y":-0.4},{"p":29,"x":52480,"y":0.8},{"p":29,"x":52530,"y":-1.0},{"p":29,"x":52580,"y":0.5},{"p":29,"x":52630,"y":-1.2},{"p":29,"x":52680,"y":1.0},{"p":29,"x":52730,"y":-0.9},{"p":29,"x":52780,"y":0.6},{"p":29,"x":52830,"y":1.8},{"p":29,"x":52880,"y":-0.8},{"p":29,"x":52930,"y":0.5},{"p":29,"x":52980,"y":-1.1},{"p":29,"x":53030,"y":0.7},{"p":29,"x":53080,"y":-1.3},{"p":29,"x":53130,"y":0.4},{"p":29,"x":53180,"y":-0.9},{"p":29,"x":53230,"y":0.9},{"p":29,"x":53280,"y":-0.6},{"p":29,"x":53330,"y":1.0},{"p":29,"x":53380,"y":-0.5},{"p":29,"x":53430,"y":1.1},{"p":29,"x":53480,"y":-0.7},{"p":29,"x":53530,"y":0.5},{"p":29,"x":53580,"y":-1.5},{"p":29,"x":53630,"y":0.3},{"p":29,"x":53680,"y":-1.9},{"p":29,"x":53730,"y":0.2},{"p":29,"x":53780,"y":-1.2},{"p":29,"x":53830,"y":0.8},{"p":29,"x":53880,"y":-0.6},{"p":29,"x":53930,"y":1.3},{"p":29,"x":53980,"y":-0.5},{"p":29,"x":54030,"y":1.5},{"p":29,"x":54080,"y":-0.8},{"p":29,"x":54130,"y":1.0},{"p":29,"x":54180,"y":-1.2},{"p":29,"x":54230,"y":0.9},{"p":29,"x":54280,"y":-0.9},{"p":29,"x":54330,"y":1.2},{"p":29,"x":54380,"y":-1.3},{"p":29,"x":54430,"y":0.6},{"p":29,"x":54480,"y":-0.8},{"p":29,"x":54530,"y":1.0},{"p":29,"x":54580,"y":0.2},{"p":29,"x":54630,"y":1.6},{"p":29,"x":54680,"y":0.6},{"p":29,"x":54730,"y":2.0},{"p":29,"x":54780,"y":1.2},{"p":29,"x":54830,"y":2.9},{"p":29,"x":54880,"y":0.8},{"p":29,"x":54930,"y":1.5},{"p":29,"x":54980,"y":-0.6},{"p":29,"x":55030,"y":0.3},{"p":29,"x":55060,"y":-4.5},{"p":29,"x":55080,"y":-1.0},{"p":29,"x":55110,"y":4.5},{"p":29,"x":55150,"y":-4.5},{"p":29,"x":55180,"y":-3.0},{"p":29,"x":55200,"y":4.5},{"p":29,"x":55250,"y":1.0},{"p":29,"x":55290,"y":-4.5},{"p":29,"x":55330,"y":4.5},{"p":29,"x":55380,"y":3.2},{"p":29,"x":55400,"y":-4.5},{"p":29,"x":55415,"y":-1.0},
{"p":30,"x":52130,"y":-3.7,"n":"W214"},{"p":30,"x":52150,"y":0.8},{"p":30,"x":52180,"y":-0.6},{"p":30,"x":52230,"y":1.0},{"p":30,"x":52280,"y":-0.8},{"p":30,"x":52330,"y":0.6},{"p":30,"x":52380,"y":-1.1},{"p":30,"x":52430,"y":0.9},{"p":30,"x":52480,"y":-0.5},{"p":30,"x":52530,"y":1.0},{"p":30,"x":52580,"y":-0.9},{"p":30,"x":52630,"y":0.6},{"p":30,"x":52680,"y":-0.7},{"p":30,"x":52730,"y":1.1},{"p":30,"x":52780,"y":-0.6},{"p":30,"x":52830,"y":0.8},{"p":30,"x":52880,"y":-1.0},{"p":30,"x":52930,"y":0.9},{"p":30,"x":52980,"y":-0.4},{"p":30,"x":53030,"y":1.0},{"p":30,"x":53080,"y":-0.8},{"p":30,"x":53130,"y":0.7},{"p":30,"x":53180,"y":-1.2},{"p":30,"x":53230,"y":0.5},{"p":30,"x":53280,"y":-0.9},{"p":30,"x":53330,"y":0.9},{"p":30,"x":53380,"y":-0.3},{"p":30,"x":53430,"y":1.2},{"p":30,"x":53480,"y":-0.7},{"p":30,"x":53530,"y":1.3},{"p":30,"x":53580,"y":-0.6},{"p":30,"x":53630,"y":0.8},{"p":30,"x":53680,"y":-1.0},{"p":30,"x":53730,"y":0.5},{"p":30,"x":53780,"y":-0.9},{"p":30,"x":53830,"y":1.0},{"p":30,"x":53880,"y":-0.4},{"p":30,"x":53930,"y":1.3},{"p":30,"x":53980,"y":-0.6},{"p":30,"x":54030,"y":1.2},{"p":30,"x":54080,"y":-0.9},{"p":30,"x":54130,"y":0.6},{"p":30,"x":54180,"y":-1.2},{"p":30,"x":54230,"y":0.9},{"p":30,"x":54280,"y":-0.8},{"p":30,"x":54330,"y":0.8},{"p":30,"x":54380,"y":-1.1},{"p":30,"x":54430,"y":0.6},{"p":30,"x":54480,"y":-0.9},{"p":30,"x":54530,"y":0.4},{"p":30,"x":54580,"y":-1.5},{"p":30,"x":54630,"y":-0.6},{"p":30,"x":54680,"y":-2.1},{"p":30,"x":54730,"y":-0.8},{"p":30,"x":54780,"y":-1.6},{"p":30,"x":54830,"y":0.2},{"p":30,"x":54880,"y":-0.6},{"p":30,"x":54930,"y":0.9},{"p":30,"x":54980,"y":0.0},{"p":30,"x":55030,"y":0.7},{"p":30,"x":55060,"y":4.5},{"p":30,"x":55100,"y":-4.5},{"p":30,"x":55150,"y":4.5},{"p":30,"x":55200,"y":-4.5},{"p":30,"x":55250,"y":-3.8},{"p":30,"x":55300,"y":4.5},{"p":30,"x":55350,"y":-3.3},{"p":30,"x":55390,"y":4.5},{"p":30,"x":55415,"y":0.3},
{"p":31,"x":52130,"y":3.2,"n":"W223"},{"p":31,"x":52150,"y":-0.2},{"p":31,"x":52230,"y":0.5},{"p":31,"x":52330,"y":-0.5},{"p":31,"x":52430,"y":0.4},{"p":31,"x":52530,"y":-0.6},{"p":31,"x":52630,"y":0.5},{"p":31,"x":52730,"y":-0.4},{"p":31,"x":52830,"y":0.6},{"p":31,"x":52930,"y":-0.5},{"p":31,"x":53030,"y":0.4},{"p":31,"x":53130,"y":-0.5},{"p":31,"x":53230,"y":0.5},{"p":31,"x":53330,"y":-0.6},{"p":31,"x":53430,"y":0.4},{"p":31,"x":53530,"y":-0.4},{"p":31,"x":53630,"y":0.6},{"p":31,"x":53730,"y":-0.5},{"p":31,"x":53830,"y":0.4},{"p":31,"x":53930,"y":-0.6},{"p":31,"x":54030,"y":0.5},{"p":31,"x":54130,"y":-0.4},{"p":31,"x":54230,"y":0.6},{"p":31,"x":54330,"y":-0.5},{"p":31,"x":54430,"y":0.4},{"p":31,"x":54530,"y":-0.5},{"p":31,"x":54630,"y":0.5},{"p":31,"x":54730,"y":-0.4},{"p":31,"x":54830,"y":0.6},{"p":31,"x":54930,"y":-0.5},{"p":31,"x":55030,"y":0.4},{"p":31,"x":55130,"y":-1.5},{"p":31,"x":55230,"y":0.5},{"p":31,"x":55315,"y":2.5},{"p":31,"x":55330,"y":-0.4},{"p":31,"x":55415,"y":0.2},
{"p":32,"x":52130,"y":-0.8,"n":"W224"},{"p":32,"x":52150,"y":0.7},{"p":32,"x":52230,"y":-0.6},{"p":32,"x":52330,"y":0.6},{"p":32,"x":52430,"y":-0.5},{"p":32,"x":52530,"y":0.7},{"p":32,"x":52630,"y":-0.6},{"p":32,"x":52730,"y":0.5},{"p":32,"x":52830,"y":-0.7},{"p":32,"x":52930,"y":0.6},{"p":32,"x":53030,"y":-0.5},{"p":32,"x":53130,"y":0.7},{"p":32,"x":53230,"y":-0.6},{"p":32,"x":53330,"y":0.5},{"p":32,"x":53430,"y":-0.7},{"p":32,"x":53530,"y":0.6},{"p":32,"x":53630,"y":-0.5},{"p":32,"x":53730,"y":0.7},{"p":32,"x":53830,"y":-0.6},{"p":32,"x":53930,"y":0.5},{"p":32,"x":54030,"y":-0.7},{"p":32,"x":54130,"y":0.6},{"p":32,"x":54230,"y":-0.5},{"p":32,"x":54330,"y":0.7},{"p":32,"x":54380,"y":1.8},{"p":32,"x":54430,"y":-0.6},{"p":32,"x":54530,"y":0.5},{"p":32,"x":54630,"y":-0.7},{"p":32,"x":54730,"y":0.6},{"p":32,"x":54830,"y":-0.5},{"p":32,"x":54930,"y":0.7},{"p":32,"x":55030,"y":-0.6},{"p":32,"x":55090,"y":3.5},{"p":32,"x":55130,"y":-0.8},{"p":32,"x":55230,"y":-2.0},{"p":32,"x":55300,"y":0.9},{"p":32,"x":55350,"y":-1.5},{"p":32,"x":55415,"y":0.3},
{"p":33,"x":52130,"y":0.1,"n":"W313"},{"p":33,"x":52230,"y":-0.12},{"p":33,"x":52330,"y":0.12},{"p":33,"x":52430,"y":-0.1},{"p":33,"x":52530,"y":0.1},{"p":33,"x":52630,"y":-0.12},{"p":33,"x":52730,"y":0.1},{"p":33,"x":52830,"y":-0.1},{"p":33,"x":52930,"y":0.12},{"p":33,"x":53030,"y":-0.12},{"p":33,"x":53130,"y":0.1},{"p":33,"x":53230,"y":-0.1},{"p":33,"x":53330,"y":0.12},{"p":33,"x":53430,"y":-0.12},{"p":33,"x":53530,"y":0.1},{"p":33,"x":53630,"y":-0.1},{"p":33,"x":53730,"y":0.12},{"p":33,"x":53830,"y":-0.12},{"p":33,"x":53930,"y":0.1},{"p":33,"x":54030,"y":-0.1},{"p":33,"x":54130,"y":0.12},{"p":33,"x":54230,"y":-0.1},{"p":33,"x":54330,"y":0.1},{"p":33,"x":54430,"y":-0.12},{"p":33,"x":54480,"y":0.5},{"p":33,"x":54530,"y":0.1},{"p":33,"x":54630,"y":-0.1},{"p":33,"x":54730,"y":0.12},{"p":33,"x":54830,"y":-0.12},{"p":33,"x":54930,"y":0.1},{"p":33,"x":55030,"y":-0.1},{"p":33,"x":55130,"y":0.12},{"p":33,"x":55230,"y":-0.12},{"p":33,"x":55330,"y":0.1},{"p":33,"x":55415,"y":0.0},
{"p":34,"x":52130,"y":0.25,"n":"W314"},{"p":34,"x":52230,"y":-0.3},{"p":34,"x":52330,"y":0.2},{"p":34,"x":52430,"y":-0.25},{"p":34,"x":52530,"y":0.3},{"p":34,"x":52630,"y":-0.2},{"p":34,"x":52730,"y":0.25},{"p":34,"x":52830,"y":-0.3},{"p":34,"x":52930,"y":0.2},{"p":34,"x":53030,"y":-0.25},{"p":34,"x":53130,"y":0.3},{"p":34,"x":53230,"y":-0.2},{"p":34,"x":53330,"y":0.25},{"p":34,"x":53430,"y":-0.3},{"p":34,"x":53530,"y":0.2},{"p":34,"x":53630,"y":-0.25},{"p":34,"x":53730,"y":0.3},{"p":34,"x":53830,"y":-0.2},{"p":34,"x":53930,"y":0.25},{"p":34,"x":54030,"y":-0.3},{"p":34,"x":54130,"y":0.2},{"p":34,"x":54230,"y":-0.25},{"p":34,"x":54330,"y":0.3},{"p":34,"x":54430,"y":-0.2},{"p":34,"x":54530,"y":0.25},{"p":34,"x":54560,"y":-0.65},{"p":34,"x":54630,"y":-0.3},{"p":34,"x":54730,"y":0.2},{"p":34,"x":54830,"y":-0.25},{"p":34,"x":54930,"y":0.3},{"p":34,"x":55030,"y":-0.2},{"p":34,"x":55130,"y":0.25},{"p":34,"x":55230,"y":-0.3},{"p":34,"x":55330,"y":0.25},{"p":34,"x":55415,"y":0.0},
{"p":35,"x":52130,"y":0.3,"n":"W323"},{"p":35,"x":52230,"y":-0.15},{"p":35,"x":52330,"y":0.2},{"p":35,"x":52430,"y":-0.15},{"p":35,"x":52530,"y":0.15},{"p":35,"x":52630,"y":-0.2},{"p":35,"x":52730,"y":0.2},{"p":35,"x":52830,"y":-0.15},{"p":35,"x":52930,"y":0.15},{"p":35,"x":53030,"y":-0.2},{"p":35,"x":53130,"y":0.2},{"p":35,"x":53230,"y":-0.1},{"p":35,"x":53330,"y":0.3},{"p":35,"x":53430,"y":0.0},{"p":35,"x":53530,"y":0.45},{"p":35,"x":53630,"y":0.2},{"p":35,"x":53690,"y":0.85},{"p":35,"x":53720,"y":0.4},{"p":35,"x":53745,"y":-4.3},{"p":35,"x":53770,"y":-2.0},{"p":35,"x":53800,"y":-0.6},{"p":35,"x":53830,"y":0.3},{"p":35,"x":53930,"y":-0.05},{"p":35,"x":54030,"y":0.3},{"p":35,"x":54130,"y":0.0},{"p":35,"x":54230,"y":0.3},{"p":35,"x":54330,"y":0.0},{"p":35,"x":54430,"y":0.3},{"p":35,"x":54530,"y":0.0},{"p":35,"x":54630,"y":0.3},{"p":35,"x":54730,"y":0.05},{"p":35,"x":54775,"y":4.5},{"p":35,"x":54800,"y":2.0},{"p":35,"x":54830,"y":0.9},{"p":35,"x":54880,"y":0.2},{"p":35,"x":54930,"y":0.35},{"p":35,"x":55030,"y":-0.05},{"p":35,"x":55130,"y":0.3},{"p":35,"x":55230,"y":-0.1},{"p":35,"x":55330,"y":0.3},{"p":35,"x":55415,"y":0.0},
{"p":36,"x":52130,"y":-0.2,"n":"W324"},{"p":36,"x":52230,"y":0.15},{"p":36,"x":52330,"y":-0.2},{"p":36,"x":52430,"y":0.2},{"p":36,"x":52530,"y":-0.15},{"p":36,"x":52630,"y":0.2},{"p":36,"x":52730,"y":-0.2},{"p":36,"x":52830,"y":0.15},{"p":36,"x":52930,"y":-0.15},{"p":36,"x":53030,"y":0.2},{"p":36,"x":53130,"y":-0.2},{"p":36,"x":53230,"y":0.1},{"p":36,"x":53330,"y":-0.3},{"p":36,"x":53430,"y":-0.05},{"p":36,"x":53530,"y":-0.45},{"p":36,"x":53630,"y":-0.3},{"p":36,"x":53700,"y":-0.8},{"p":36,"x":53730,"y":-0.5},{"p":36,"x":53755,"y":4.5},{"p":36,"x":53780,"y":2.5},{"p":36,"x":53810,"y":1.0},{"p":36,"x":53850,"y":0.3},{"p":36,"x":53930,"y":0.0},{"p":36,"x":54030,"y":0.3},{"p":36,"x":54130,"y":-0.05},{"p":36,"x":54230,"y":0.3},{"p":36,"x":54330,"y":0.0},{"p":36,"x":54430,"y":0.3},{"p":36,"x":54530,"y":-0.05},{"p":36,"x":54630,"y":0.3},{"p":36,"x":54730,"y":0.0},{"p":36,"x":54780,"y":0.2},{"p":36,"x":54795,"y":-4.5},{"p":36,"x":54815,"y":-2.0},{"p":36,"x":54850,"y":-0.9},{"p":36,"x":54900,"y":-0.2},{"p":36,"x":54930,"y":0.2},{"p":36,"x":55030,"y":-0.1},{"p":36,"x":55130,"y":0.3},{"p":36,"x":55230,"y":-0.05},{"p":36,"x":55330,"y":0.3},{"p":36,"x":55415,"y":0.0},
{"p":37,"x":52130,"y":-2.4,"n":"W413"},{"p":37,"x":52150,"y":1.9},{"p":37,"x":52180,"y":-0.9},{"p":37,"x":52230,"y":0.8},{"p":37,"x":52280,"y":-1.3},{"p":37,"x":52330,"y":1.0},{"p":37,"x":52380,"y":-0.7},{"p":37,"x":52430,"y":0.6},{"p":37,"x":52480,"y":-1.5},{"p":37,"x":52530,"y":0.9},{"p":37,"x":52580,"y":-1.0},{"p":37,"x":52630,"y":1.2},{"p":37,"x":52680,"y":-0.8},{"p":37,"x":52700,"y":-3.1},{"p":37,"x":52730,"y":0.9},{"p":37,"x":52780,"y":-1.1},{"p":37,"x":52830,"y":1.4},{"p":37,"x":52880,"y":-0.9},{"p":37,"x":52930,"y":0.7},{"p":37,"x":52980,"y":-1.2},{"p":37,"x":53030,"y":1.5},{"p":37,"x":53080,"y":-0.8},{"p":37,"x":53130,"y":1.0},{"p":37,"x":53180,"y":-1.3},{"p":37,"x":53230,"y":1.6},{"p":37,"x":53280,"y":-0.9},{"p":37,"x":53330,"y":0.8},{"p":37,"x":53380,"y":-1.2},{"p":37,"x":53430,"y":1.3},{"p":37,"x":53480,"y":-1.0},{"p":37,"x":53530,"y":0.9},{"p":37,"x":53580,"y":-1.3},{"p":37,"x":53630,"y":1.5},{"p":37,"x":53680,"y":-0.9},{"p":37,"x":53730,"y":1.0},{"p":37,"x":53780,"y":-1.2},{"p":37,"x":53830,"y":0.8},{"p":37,"x":53880,"y":-1.0},{"p":37,"x":53930,"y":1.3},{"p":37,"x":53980,"y":-1.1},{"p":37,"x":54030,"y":1.0},{"p":37,"x":54080,"y":-0.8},{"p":37,"x":54130,"y":1.4},{"p":37,"x":54180,"y":-1.2},{"p":37,"x":54230,"y":0.9},{"p":37,"x":54280,"y":-1.0},{"p":37,"x":54330,"y":1.2},{"p":37,"x":54380,"y":-1.3},{"p":37,"x":54430,"y":0.8},{"p":37,"x":54480,"y":-1.1},{"p":37,"x":54530,"y":1.5},{"p":37,"x":54580,"y":-0.9},{"p":37,"x":54630,"y":1.0},{"p":37,"x":54680,"y":-1.2},{"p":37,"x":54730,"y":0.9},{"p":37,"x":54780,"y":-1.0},{"p":37,"x":54830,"y":1.3},{"p":37,"x":54880,"y":-1.2},{"p":37,"x":54930,"y":0.8},{"p":37,"x":54980,"y":-1.0},{"p":37,"x":55030,"y":1.4},{"p":37,"x":55080,"y":-1.3},{"p":37,"x":55130,"y":1.0},{"p":37,"x":55180,"y":-1.1},{"p":37,"x":55230,"y":1.6},{"p":37,"x":55280,"y":-2.0},{"p":37,"x":55330,"y":1.2},{"p":37,"x":55360,"y":-2.7},{"p":37,"x":55390,"y":2.0},{"p":37,"x":55415,"y":-0.5},
{"p":38,"x":52130,"y":1.6,"n":"W414"},{"p":38,"x":52180,"y":-0.8},{"p":38,"x":52230,"y":0.9},{"p":38,"x":52280,"y":-0.6},{"p":38,"x":52330,"y":1.0},{"p":38,"x":52380,"y":-0.9},{"p":38,"x":52430,"y":0.7},{"p":38,"x":52480,"y":-1.0},{"p":38,"x":52530,"y":0.9},{"p":38,"x":52580,"y":-0.7},{"p":38,"x":52630,"y":0.8},{"p":38,"x":52680,"y":-1.0},{"p":38,"x":52715,"y":4.5},{"p":38,"x":52740,"y":-1.6},{"p":38,"x":52780,"y":0.9},{"p":38,"x":52830,"y":-0.8},{"p":38,"x":52880,"y":1.1},{"p":38,"x":52930,"y":-0.9},{"p":38,"x":52980,"y":0.7},{"p":38,"x":53030,"y":-1.0},{"p":38,"x":53080,"y":1.0},{"p":38,"x":53130,"y":-0.8},{"p":38,"x":53180,"y":0.8},{"p":38,"x":53230,"y":-1.1},{"p":38,"x":53280,"y":0.9},{"p":38,"x":53330,"y":-0.9},{"p":38,"x":53380,"y":1.2},{"p":38,"x":53430,"y":-1.0},{"p":38,"x":53480,"y":0.7},{"p":38,"x":53530,"y":-0.9},{"p":38,"x":53580,"y":1.3},{"p":38,"x":53630,"y":-1.0},{"p":38,"x":53680,"y":0.8},{"p":38,"x":53730,"y":-1.2},{"p":38,"x":53780,"y":1.0},{"p":38,"x":53830,"y":-0.8},{"p":38,"x":53880,"y":0.9},{"p":38,"x":53930,"y":-1.1},{"p":38,"x":53980,"y":1.2},{"p":38,"x":54030,"y":-0.9},{"p":38,"x":54080,"y":0.8},{"p":38,"x":54130,"y":-1.0},{"p":38,"x":54180,"y":1.3},{"p":38,"x":54230,"y":-0.9},{"p":38,"x":54280,"y":1.0},{"p":38,"x":54330,"y":-1.1},{"p":38,"x":54380,"y":0.8},{"p":38,"x":54430,"y":-1.0},{"p":38,"x":54480,"y":1.2},{"p":38,"x":54530,"y":-0.8},{"p":38,"x":54580,"y":1.0},{"p":38,"x":54630,"y":-1.2},{"p":38,"x":54680,"y":0.9},{"p":38,"x":54730,"y":-1.8},{"p":38,"x":54780,"y":1.1},{"p":38,"x":54830,"y":-0.9},{"p":38,"x":54880,"y":1.0},{"p":38,"x":54930,"y":-1.0},{"p":38,"x":54980,"y":0.9},{"p":38,"x":55030,"y":-1.2},{"p":38,"x":55080,"y":1.1},{"p":38,"x":55130,"y":-0.9},{"p":38,"x":55180,"y":1.0},{"p":38,"x":55230,"y":-1.1},{"p":38,"x":55280,"y":0.8},{"p":38,"x":55330,"y":1.6},{"p":38,"x":55380,"y":-0.9},{"p":38,"x":55415,"y":-2.1},
{"p":39,"x":52130,"y":-4.5,"n":"W423"},{"p":39,"x":52150,"y":1.5},{"p":39,"x":52180,"y":-0.5},{"p":39,"x":52230,"y":0.9},{"p":39,"x":52280,"y":-0.8},{"p":39,"x":52330,"y":0.7},{"p":39,"x":52380,"y":-1.0},{"p":39,"x":52430,"y":0.8},{"p":39,"x":52480,"y":-0.6},{"p":39,"x":52530,"y":1.0},{"p":39,"x":52580,"y":-0.9},{"p":39,"x":52630,"y":0.6},{"p":39,"x":52680,"y":-1.1},{"p":39,"x":52730,"y":0.8},{"p":39,"x":52780,"y":-0.7},{"p":39,"x":52830,"y":1.0},{"p":39,"x":52880,"y":-0.9},{"p":39,"x":52930,"y":0.6},{"p":39,"x":52980,"y":-1.0},{"p":39,"x":53030,"y":0.9},{"p":39,"x":53080,"y":-0.8},{"p":39,"x":53130,"y":1.4},{"p":39,"x":53180,"y":-0.9},{"p":39,"x":53230,"y":0.7},{"p":39,"x":53280,"y":-1.0},{"p":39,"x":53330,"y":1.0},{"p":39,"x":53380,"y":-0.7},{"p":39,"x":53430,"y":0.8},{"p":39,"x":53480,"y":-2.0},{"p":39,"x":53530,"y":0.9},{"p":39,"x":53580,"y":-0.8},{"p":39,"x":53630,"y":1.1},{"p":39,"x":53680,"y":-1.0},{"p":39,"x":53730,"y":0.8},{"p":39,"x":53768,"y":3.7},{"p":39,"x":53790,"y":-1.6},{"p":39,"x":53830,"y":0.7},{"p":39,"x":53880,"y":-0.9},{"p":39,"x":53930,"y":1.0},{"p":39,"x":53980,"y":-0.8},{"p":39,"x":54030,"y":0.9},{"p":39,"x":54080,"y":-1.1},{"p":39,"x":54130,"y":0.7},{"p":39,"x":54180,"y":-0.9},{"p":39,"x":54230,"y":1.2},{"p":39,"x":54280,"y":-0.8},{"p":39,"x":54330,"y":0.9},{"p":39,"x":54380,"y":-1.0},{"p":39,"x":54430,"y":1.9},{"p":39,"x":54480,"y":-0.8},{"p":39,"x":54530,"y":0.9},{"p":39,"x":54580,"y":-1.1},{"p":39,"x":54630,"y":0.8},{"p":39,"x":54680,"y":-0.9},{"p":39,"x":54730,"y":1.3},{"p":39,"x":54780,"y":-1.0},{"p":39,"x":54830,"y":0.8},{"p":39,"x":54880,"y":-1.1},{"p":39,"x":54930,"y":1.0},{"p":39,"x":54980,"y":-0.9},{"p":39,"x":55030,"y":0.9},{"p":39,"x":55080,"y":-2.0},{"p":39,"x":55110,"y":1.2},{"p":39,"x":55150,"y":4.5},{"p":39,"x":55180,"y":-3.0},{"p":39,"x":55200,"y":4.5},{"p":39,"x":55230,"y":-2.5},{"p":39,"x":55260,"y":4.5},{"p":39,"x":55290,"y":-4.5},{"p":39,"x":55330,"y":1.0},{"p":39,"x":55360,"y":-4.5},{"p":39,"x":55390,"y":0.8},{"p":39,"x":55415,"y":-0.5},
{"p":40,"x":52130,"y":0.2,"n":"W424"},{"p":40,"x":52180,"y":-0.9},{"p":40,"x":52230,"y":0.8},{"p":40,"x":52280,"y":-0.5},{"p":40,"x":52330,"y":0.7},{"p":40,"x":52380,"y":-0.8},{"p":40,"x":52430,"y":0.6},{"p":40,"x":52480,"y":-0.7},{"p":40,"x":52530,"y":0.9},{"p":40,"x":52580,"y":-0.6},{"p":40,"x":52630,"y":0.7},{"p":40,"x":52680,"y":-0.9},{"p":40,"x":52730,"y":0.5},{"p":40,"x":52780,"y":-0.7},{"p":40,"x":52830,"y":0.8},{"p":40,"x":52880,"y":-0.6},{"p":40,"x":52930,"y":0.7},{"p":40,"x":52980,"y":-0.9},{"p":40,"x":53030,"y":0.6},{"p":40,"x":53080,"y":-0.7},{"p":40,"x":53130,"y":0.8},{"p":40,"x":53180,"y":-0.6},{"p":40,"x":53230,"y":0.7},{"p":40,"x":53280,"y":-0.8},{"p":40,"x":53330,"y":0.6},{"p":40,"x":53380,"y":-0.7},{"p":40,"x":53430,"y":0.9},{"p":40,"x":53480,"y":2.2},{"p":40,"x":53500,"y":-1.5},{"p":40,"x":53530,"y":0.7},{"p":40,"x":53580,"y":-0.8},{"p":40,"x":53630,"y":0.6},{"p":40,"x":53680,"y":-0.7},{"p":40,"x":53730,"y":0.9},{"p":40,"x":53780,"y":-0.6},{"p":40,"x":53830,"y":0.8},{"p":40,"x":53880,"y":-0.9},{"p":40,"x":53930,"y":-1.4},{"p":40,"x":53980,"y":0.7},{"p":40,"x":54030,"y":-0.6},{"p":40,"x":54080,"y":0.9},{"p":40,"x":54130,"y":-0.8},{"p":40,"x":54180,"y":0.6},{"p":40,"x":54230,"y":-0.7},{"p":40,"x":54280,"y":0.8},{"p":40,"x":54330,"y":-0.6},{"p":40,"x":54380,"y":2.7},{"p":40,"x":54430,"y":-0.8},{"p":40,"x":54480,"y":0.7},{"p":40,"x":54530,"y":-0.6},{"p":40,"x":54580,"y":0.8},{"p":40,"x":54630,"y":-0.9},{"p":40,"x":54680,"y":0.6},{"p":40,"x":54730,"y":-0.7},{"p":40,"x":54780,"y":0.9},{"p":40,"x":54830,"y":-0.6},{"p":40,"x":54880,"y":0.7},{"p":40,"x":54930,"y":-0.8},{"p":40,"x":54980,"y":0.6},{"p":40,"x":55030,"y":-0.7},{"p":40,"x":55080,"y":0.9},{"p":40,"x":55120,"y":-2.5},{"p":40,"x":55160,"y":3.7},{"p":40,"x":55200,"y":-3.0},{"p":40,"x":55230,"y":3.5},{"p":40,"x":55280,"y":-1.5},{"p":40,"x":55330,"y":-4.0},{"p":40,"x":55380,"y":0.9},{"p":40,"x":55415,"y":0.2}
]},
"spacing":-14,
"hconcat":[
{"transform":[{"filter":"datum.p % 4 == 1"}],
 "facet":{"row":{"field":"p","type":"ordinal","header":null}},
 "spacing":0,
 "spec":{"width":276,"height":148.2,"layer":[
  {"mark":{"type":"line","color":"#000","strokeWidth":2.5,"clip":true},
   "encoding":{
    "x":{"field":"x","type":"quantitative","scale":{"domain":[51974,55571],"nice":false,"zero":false},"axis":{"values":[52000,53000,54000,55000],"labelExpr":"floor(datum.value/1000)+'\u2009000'","title":"MJD","tickSize":12,"labelPadding":7,"labelFont":"Liberation Serif","labelFontSize":20,"titleFont":"Liberation Sans","titleFontSize":18,"titlePadding":8}},
    "y":{"field":"y","type":"quantitative","scale":{"domain":[-4,4],"nice":false},"axis":{"values":[-3,0,3],"labelExpr":"datum.value<0?'\u2212'+abs(datum.value):''+datum.value","labelAngle":270,"labelAlign":"center","labelBaseline":"bottom","labelPadding":13,"labelFont":"Liberation Sans","labelFontSize":18,"title":"b\u2081 [du]","titleFont":"Liberation Sans","titleFontSize":19,"titlePadding":20,"tickSize":11}}}},
  {"transform":[{"filter":"isValid(datum.n)"}],
   "mark":{"type":"text","align":"left","baseline":"alphabetic","fontSize":20,"font":"Liberation Sans","color":"#000"},
   "encoding":{"x":{"datum":52225,"type":"quantitative"},"y":{"datum":2.7,"type":"quantitative"},"text":{"field":"n"}}}
 ]}},
{"transform":[{"filter":"datum.p % 4 == 2"}],
 "facet":{"row":{"field":"p","type":"ordinal","header":null}},
 "spacing":0,
 "spec":{"width":276,"height":148.2,"layer":[
  {"mark":{"type":"line","color":"#000","strokeWidth":2.5,"clip":true},
   "encoding":{
    "x":{"field":"x","type":"quantitative","scale":{"domain":[51974,55571],"nice":false,"zero":false},"axis":{"values":[53000,54000,55000],"labelExpr":"floor(datum.value/1000)+'\u2009000'","title":"MJD","tickSize":12,"labelPadding":7,"labelFont":"Liberation Serif","labelFontSize":20,"titleFont":"Liberation Sans","titleFontSize":18,"titlePadding":8}},
    "y":{"field":"y","type":"quantitative","scale":{"domain":[-4,4],"nice":false},"axis":{"values":[-3,0,3],"labels":false,"title":null,"tickSize":11}}}},
  {"transform":[{"filter":"isValid(datum.n)"}],
   "mark":{"type":"text","align":"left","baseline":"alphabetic","fontSize":20,"font":"Liberation Sans","color":"#000"},
   "encoding":{"x":{"datum":52225,"type":"quantitative"},"y":{"datum":2.7,"type":"quantitative"},"text":{"field":"n"}}}
 ]}},
{"transform":[{"filter":"datum.p % 4 == 3"}],
 "facet":{"row":{"field":"p","type":"ordinal","header":null}},
 "spacing":0,
 "spec":{"width":276,"height":148.2,"layer":[
  {"mark":{"type":"line","color":"#000","strokeWidth":2.5,"clip":true},
   "encoding":{
    "x":{"field":"x","type":"quantitative","scale":{"domain":[51974,55571],"nice":false,"zero":false},"axis":{"values":[53000,54000,55000],"labelExpr":"floor(datum.value/1000)+'\u2009000'","title":"MJD","tickSize":12,"labelPadding":7,"labelFont":"Liberation Serif","labelFontSize":20,"titleFont":"Liberation Sans","titleFontSize":18,"titlePadding":8}},
    "y":{"field":"y","type":"quantitative","scale":{"domain":[-4,4],"nice":false},"axis":{"values":[-3,0,3],"labels":false,"title":null,"tickSize":11}}}},
  {"transform":[{"filter":"isValid(datum.n)"}],
   "mark":{"type":"text","align":"left","baseline":"alphabetic","fontSize":20,"font":"Liberation Sans","color":"#000"},
   "encoding":{"x":{"datum":52225,"type":"quantitative"},"y":{"datum":2.7,"type":"quantitative"},"text":{"field":"n"}}}
 ]}},
{"transform":[{"filter":"datum.p % 4 == 0"}],
 "facet":{"row":{"field":"p","type":"ordinal","header":null}},
 "spacing":0,
 "spec":{"width":276,"height":148.2,"layer":[
  {"mark":{"type":"line","color":"#000","strokeWidth":2.5,"clip":true},
   "encoding":{
    "x":{"field":"x","type":"quantitative","scale":{"domain":[51974,55571],"nice":false,"zero":false},"axis":{"values":[53000,54000,55000],"labelExpr":"floor(datum.value/1000)+'\u2009000'","title":"MJD","tickSize":12,"labelPadding":7,"labelFont":"Liberation Serif","labelFontSize":20,"titleFont":"Liberation Sans","titleFontSize":18,"titlePadding":8}},
    "y":{"field":"y","type":"quantitative","scale":{"domain":[-4,4],"nice":false},"axis":{"values":[-3,0,3],"labels":false,"title":null,"tickSize":11}}}},
  {"transform":[{"filter":"isValid(datum.n)"}],
   "mark":{"type":"text","align":"left","baseline":"alphabetic","fontSize":20,"font":"Liberation Sans","color":"#000"},
   "encoding":{"x":{"datum":52225,"type":"quantitative"},"y":{"datum":2.7,"type":"quantitative"},"text":{"field":"n"}}}
 ]}}
]
}
